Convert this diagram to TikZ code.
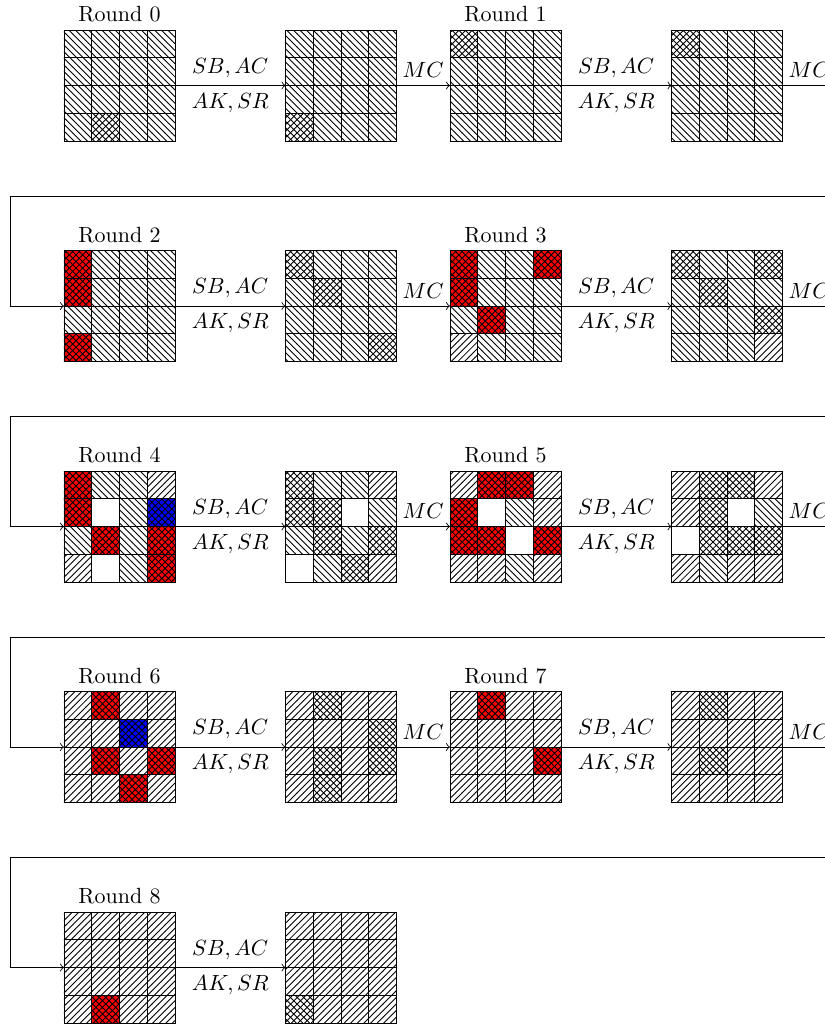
\documentclass[tikz,border=0pt]{standalone}
\usetikzlibrary{patterns}
\usetikzlibrary{positioning}

% 16 cells of a state, row by row from the top left
\newcommand{\statecells}[2]{%
  \foreach \p [count=\i from 0] in {#2} {
    \pgfmathtruncatemacro{\col}{mod(\i,4)}
    \pgfmathtruncatemacro{\row}{div(\i,4)}
    \draw[c\p] ([shift={(\col*27.75,\row*27.75)}]#1.north west) rectangle ++(27.75,27.75);
  }
}

\begin{document}
\begin{tikzpicture}[
      x=0.4545pt, y=-0.4545pt,
      state/.style={draw, minimum size=50.45pt, inner sep=0pt, outer sep=0pt},
      cW/.style={draw, pattern=north west lines},
      cE/.style={draw, pattern=north east lines},
      cX/.style={draw, pattern=crosshatch},
      cR/.style={draw, fill=red, postaction={pattern=crosshatch}},
      cB/.style={draw, fill=blue, postaction={pattern=crosshatch}},
      cO/.style={draw},
    ]
    \clip (0,0) rectangle (825,1024);

    \node[state] (s0) at (119.5,85.5) {};
    \node[state] (t0) at (341,85.5) {};
    \node[state] (s1) at (505.5,85.5) {};
    \node[state] (t1) at (727,85.5) {};
    \node[state] (s2) at (119.5,306) {};
    \node[state] (t2) at (341,306) {};
    \node[state] (s3) at (505.5,306) {};
    \node[state] (t3) at (727,306) {};
    \node[state] (s4) at (119.5,526.5) {};
    \node[state] (t4) at (341,526.5) {};
    \node[state] (s5) at (505.5,526.5) {};
    \node[state] (t5) at (727,526.5) {};
    \node[state] (s6) at (119.5,747) {};
    \node[state] (t6) at (341,747) {};
    \node[state] (s7) at (505.5,747) {};
    \node[state] (t7) at (727,747) {};
    \node[state] (s8) at (119.5,967.5) {};
    \node[state] (t8) at (341,967.5) {};

    \node[above=0pt of s0] (l0) {Round 0};
    \node[above=0pt of s1] (l1) {Round 1};
    \node[above=0pt of s2] (l2) {Round 2};
    \node[above=0pt of s3] (l3) {Round 3};
    \node[above=0pt of s4] (l4) {Round 4};
    \node[above=0pt of s5] (l5) {Round 5};
    \node[above=0pt of s6] (l6) {Round 6};
    \node[above=0pt of s7] (l7) {Round 7};
    \node[above=0pt of s8] (l8) {Round 8};

    \statecells{s0}{W,W,W,W, W,W,W,W, W,W,W,W, W,X,W,W}
    \statecells{t0}{W,W,W,W, W,W,W,W, W,W,W,W, X,W,W,W}
    \statecells{s1}{X,W,W,W, W,W,W,W, W,W,W,W, W,W,W,W}
    \statecells{t1}{X,W,W,W, W,W,W,W, W,W,W,W, W,W,W,W}
    \statecells{s2}{R,W,W,W, R,W,W,W, W,W,W,W, R,W,W,W}
    \statecells{t2}{X,W,W,W, W,X,W,W, W,W,W,W, W,W,W,X}
    \statecells{s3}{R,W,W,R, R,W,W,W, W,R,W,W, E,W,W,W}
    \statecells{t3}{X,W,W,X, W,X,W,W, W,W,W,X, W,W,W,E}
    \statecells{s4}{R,W,W,E, R,O,W,B, W,R,W,R, E,O,W,R}
    \statecells{t4}{X,W,W,E, X,X,O,W, W,X,W,X, O,W,X,E}
    \statecells{s5}{E,R,R,E, R,O,W,E, R,R,O,R, E,E,W,E}
    \statecells{t5}{E,X,X,E, E,X,O,W, O,X,X,X, E,W,E,E}
    \statecells{s6}{E,R,E,E, E,E,B,E, E,R,E,R, E,E,R,E}
    \statecells{t6}{E,X,E,E, E,E,E,X, E,X,E,X, E,X,E,E}
    \statecells{s7}{E,R,E,E, E,E,E,E, E,E,E,R, E,E,E,E}
    \statecells{t7}{E,X,E,E, E,E,E,E, E,X,E,E, E,E,E,E}
    \statecells{s8}{E,E,E,E, E,E,E,E, E,E,E,E, E,R,E,E}
    \statecells{t8}{E,E,E,E, E,E,E,E, E,E,E,E, X,E,E,E}

    % SB, AC, AK, SR steps
    \foreach \k in {0,...,8} {
      \draw[->] (s\k) -- (t\k)
        node[midway, above] {$SB, AC$}
        node[midway, below] {$AK, SR$};
    }
    % MC steps in the same row
    \foreach \k [evaluate=\k as \n using int(\k+1)] in {0,2,4,6} {
      \draw[->] (t\k) -- (s\n) node[midway, above] {$MC$};
    }

    % MC at the end of a row, then back to the next row
    \coordinate (e1) at (836,85.5);
    \coordinate (u1) at (840,196);
    \coordinate (v1) at (10,196);
    \coordinate (e3) at (836,306);
    \coordinate (u3) at (840,416.5);
    \coordinate (v3) at (10,416.5);
    \coordinate (e5) at (836,526.5);
    \coordinate (u5) at (840,637);
    \coordinate (v5) at (10,637);
    \coordinate (e7) at (836,747);
    \coordinate (u7) at (840,857.5);
    \coordinate (v7) at (10,857.5);
    \foreach \k [evaluate=\k as \n using int(\k+1)] in {1,3,5,7} {
      \draw (t\k) -- (e\k) node[midway, above] {$MC$};
      \draw[->] (u\k) -- (v\k) |- (s\n);
    }
\end{tikzpicture}
\end{document}
